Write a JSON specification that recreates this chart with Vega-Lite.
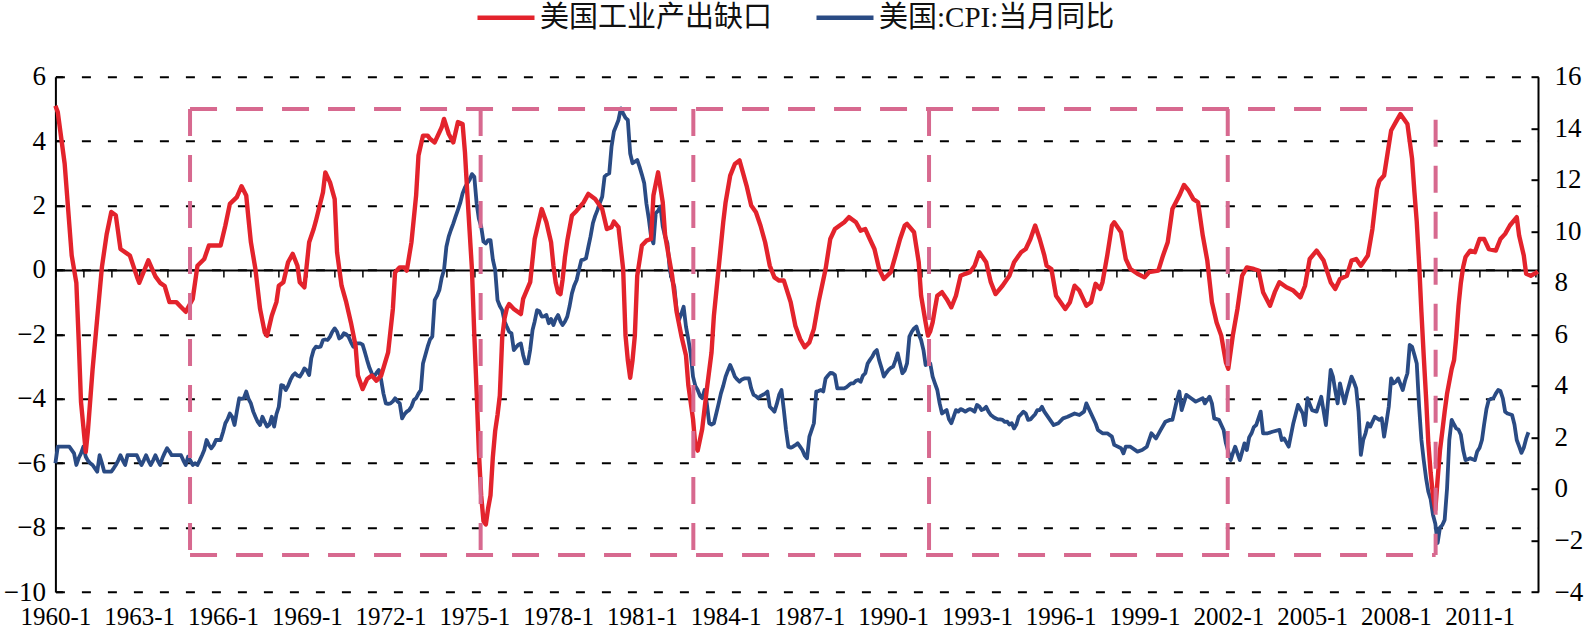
{
"$schema": "https://vega.github.io/schema/vega-lite/v6.json",
"width": 1482.6,
"height": 515.3,
"autosize": {"type": "none"},
"padding": {"left": 55.4, "top": 76.7, "right": 48, "bottom": 43},
"background": "white",
"config": {"view": {"stroke": null}, "font": "Liberation Serif"},
"datasets": {
"gap": [
{"date":"1960-01","value":5.1},{"date":"1960-02","value":4.9},{"date":"1960-05","value":3.3},{"date":"1960-08","value":0.45},{"date":"1960-10","value":-0.4},{"date":"1960-11","value":-2.2},{"date":"1960-12","value":-4.1},{"date":"1961-02","value":-5.65},{"date":"1961-03","value":-5.0},{"date":"1961-05","value":-3.1},{"date":"1961-07","value":-1.5},{"date":"1961-09","value":0.1},{"date":"1961-11","value":1.1},{"date":"1962-01","value":1.8},{"date":"1962-03","value":1.7},{"date":"1962-05","value":0.65},{"date":"1962-08","value":0.5},{"date":"1962-09","value":0.45},{"date":"1962-12","value":-0.2},{"date":"1963-01","value":-0.4},{"date":"1963-05","value":0.3},{"date":"1963-08","value":-0.2},{"date":"1963-10","value":-0.4},{"date":"1963-12","value":-0.5},{"date":"1964-02","value":-1.0},{"date":"1964-05","value":-1.0},{"date":"1964-07","value":-1.15},{"date":"1964-09","value":-1.3},{"date":"1964-12","value":-0.9},{"date":"1965-02","value":0.13},{"date":"1965-05","value":0.34},{"date":"1965-07","value":0.76},{"date":"1965-12","value":0.76},{"date":"1966-02","value":1.38},{"date":"1966-04","value":2.05},{"date":"1966-07","value":2.26},{"date":"1966-09","value":2.6},{"date":"1966-11","value":2.31},{"date":"1966-12","value":1.58},{"date":"1967-01","value":0.86},{"date":"1967-03","value":0.03},{"date":"1967-05","value":-1.21},{"date":"1967-07","value":-1.94},{"date":"1967-08","value":-2.04},{"date":"1967-10","value":-1.42},{"date":"1967-12","value":-1.0},{"date":"1968-01","value":-0.49},{"date":"1968-03","value":-0.38},{"date":"1968-05","value":0.24},{"date":"1968-07","value":0.5},{"date":"1968-09","value":0.13},{"date":"1968-10","value":-0.38},{"date":"1968-12","value":-0.54},{"date":"1969-02","value":0.86},{"date":"1969-04","value":1.27},{"date":"1969-05","value":1.53},{"date":"1969-08","value":2.41},{"date":"1969-09","value":3.03},{"date":"1969-11","value":2.72},{"date":"1970-01","value":2.2},{"date":"1970-02","value":0.55},{"date":"1970-04","value":-0.49},{"date":"1970-06","value":-1.0},{"date":"1970-08","value":-1.63},{"date":"1970-10","value":-2.35},{"date":"1970-11","value":-3.28},{"date":"1971-01","value":-3.7},{"date":"1971-03","value":-3.39},{"date":"1971-05","value":-3.28},{"date":"1971-07","value":-3.44},{"date":"1971-09","value":-3.28},{"date":"1971-12","value":-2.56},{"date":"1972-02","value":-1.21},{"date":"1972-03","value":-0.07},{"date":"1972-05","value":0.08},{"date":"1972-07","value":0.08},{"date":"1972-08","value":-0.02},{"date":"1972-10","value":0.86},{"date":"1972-12","value":2.31},{"date":"1973-01","value":3.55},{"date":"1973-03","value":4.17},{"date":"1973-05","value":4.17},{"date":"1973-06","value":4.07},{"date":"1973-08","value":3.96},{"date":"1973-11","value":4.43},{"date":"1973-12","value":4.69},{"date":"1974-02","value":4.22},{"date":"1974-04","value":3.96},{"date":"1974-06","value":4.59},{"date":"1974-08","value":4.53},{"date":"1974-09","value":3.65},{"date":"1974-10","value":2.4},{"date":"1974-11","value":1.2},{"date":"1974-12","value":0.03},{"date":"1975-01","value":-2.0},{"date":"1975-02","value":-3.8},{"date":"1975-03","value":-5.6},{"date":"1975-04","value":-7.0},{"date":"1975-05","value":-7.8},{"date":"1975-06","value":-7.9},{"date":"1975-07","value":-7.4},{"date":"1975-08","value":-7.0},{"date":"1975-09","value":-5.8},{"date":"1975-10","value":-5.0},{"date":"1975-11","value":-4.5},{"date":"1975-12","value":-3.9},{"date":"1976-01","value":-2.1},{"date":"1976-02","value":-1.5},{"date":"1976-03","value":-1.2},{"date":"1976-04","value":-1.06},{"date":"1976-06","value":-1.21},{"date":"1976-09","value":-1.37},{"date":"1976-10","value":-0.9},{"date":"1977-01","value":-0.38},{"date":"1977-03","value":0.96},{"date":"1977-06","value":1.89},{"date":"1977-08","value":1.48},{"date":"1977-10","value":0.86},{"date":"1977-11","value":0.13},{"date":"1977-12","value":-0.4},{"date":"1978-01","value":-0.7},{"date":"1978-02","value":-0.75},{"date":"1978-03","value":-0.3},{"date":"1978-04","value":0.4},{"date":"1978-05","value":0.9},{"date":"1978-07","value":1.69},{"date":"1978-09","value":1.84},{"date":"1978-12","value":2.1},{"date":"1979-02","value":2.36},{"date":"1979-05","value":2.2},{"date":"1979-08","value":1.89},{"date":"1979-10","value":1.27},{"date":"1979-12","value":1.33},{"date":"1980-01","value":1.5},{"date":"1980-03","value":1.33},{"date":"1980-05","value":0.03},{"date":"1980-06","value":-2.04},{"date":"1980-07","value":-2.8},{"date":"1980-08","value":-3.35},{"date":"1980-09","value":-2.8},{"date":"1980-10","value":-2.04},{"date":"1980-11","value":-0.18},{"date":"1981-01","value":0.76},{"date":"1981-03","value":0.91},{"date":"1981-05","value":0.96},{"date":"1981-06","value":2.31},{"date":"1981-08","value":3.03},{"date":"1981-10","value":2.1},{"date":"1981-11","value":1.07},{"date":"1982-02","value":-0.18},{"date":"1982-04","value":-1.31},{"date":"1982-06","value":-2.04},{"date":"1982-08","value":-2.66},{"date":"1982-09","value":-3.59},{"date":"1982-11","value":-4.63},{"date":"1982-12","value":-5.46},{"date":"1983-01","value":-5.61},{"date":"1983-03","value":-4.94},{"date":"1983-05","value":-3.7},{"date":"1983-07","value":-2.56},{"date":"1983-08","value":-1.42},{"date":"1983-10","value":0.03},{"date":"1983-12","value":1.48},{"date":"1984-01","value":2.1},{"date":"1984-03","value":2.93},{"date":"1984-05","value":3.29},{"date":"1984-07","value":3.4},{"date":"1984-08","value":3.14},{"date":"1984-10","value":2.62},{"date":"1984-12","value":2.0},{"date":"1985-02","value":1.79},{"date":"1985-04","value":1.38},{"date":"1985-06","value":0.86},{"date":"1985-08","value":0.13},{"date":"1985-10","value":-0.23},{"date":"1985-12","value":-0.33},{"date":"1986-02","value":-0.33},{"date":"1986-05","value":-1.0},{"date":"1986-07","value":-1.73},{"date":"1986-09","value":-2.14},{"date":"1986-11","value":-2.4},{"date":"1987-01","value":-2.25},{"date":"1987-03","value":-1.83},{"date":"1987-05","value":-1.0},{"date":"1987-08","value":0.03},{"date":"1987-10","value":0.96},{"date":"1987-12","value":1.27},{"date":"1988-02","value":1.38},{"date":"1988-04","value":1.48},{"date":"1988-06","value":1.64},{"date":"1988-09","value":1.48},{"date":"1988-11","value":1.22},{"date":"1989-01","value":1.27},{"date":"1989-03","value":0.96},{"date":"1989-05","value":0.65},{"date":"1989-07","value":0.03},{"date":"1989-09","value":-0.28},{"date":"1989-12","value":-0.07},{"date":"1990-02","value":0.45},{"date":"1990-04","value":0.96},{"date":"1990-06","value":1.38},{"date":"1990-07","value":1.43},{"date":"1990-10","value":1.17},{"date":"1990-12","value":0.24},{"date":"1991-01","value":-0.8},{"date":"1991-03","value":-1.63},{"date":"1991-04","value":-2.04},{"date":"1991-05","value":-1.9},{"date":"1991-06","value":-1.63},{"date":"1991-07","value":-1.21},{"date":"1991-08","value":-0.8},{"date":"1991-10","value":-0.69},{"date":"1991-12","value":-0.9},{"date":"1992-02","value":-1.16},{"date":"1992-04","value":-0.8},{"date":"1992-06","value":-0.18},{"date":"1992-08","value":-0.12},{"date":"1992-10","value":-0.07},{"date":"1992-12","value":0.13},{"date":"1993-02","value":0.55},{"date":"1993-05","value":0.24},{"date":"1993-07","value":-0.38},{"date":"1993-09","value":-0.75},{"date":"1993-12","value":-0.49},{"date":"1994-03","value":-0.18},{"date":"1994-05","value":0.24},{"date":"1994-08","value":0.55},{"date":"1994-10","value":0.65},{"date":"1994-12","value":0.96},{"date":"1995-02","value":1.38},{"date":"1995-04","value":0.96},{"date":"1995-06","value":0.45},{"date":"1995-07","value":0.13},{"date":"1995-09","value":0.03},{"date":"1995-11","value":-0.8},{"date":"1995-12","value":-0.9},{"date":"1996-03","value":-1.21},{"date":"1996-05","value":-1.0},{"date":"1996-07","value":-0.49},{"date":"1996-09","value":-0.64},{"date":"1996-12","value":-1.11},{"date":"1997-02","value":-1.0},{"date":"1997-04","value":-0.43},{"date":"1997-06","value":-0.59},{"date":"1997-07","value":-0.38},{"date":"1997-09","value":0.45},{"date":"1997-11","value":1.38},{"date":"1997-12","value":1.48},{"date":"1998-03","value":1.17},{"date":"1998-05","value":0.34},{"date":"1998-07","value":0.03},{"date":"1998-10","value":-0.12},{"date":"1999-01","value":-0.23},{"date":"1999-03","value":-0.07},{"date":"1999-07","value":-0.02},{"date":"1999-09","value":0.45},{"date":"1999-11","value":0.86},{"date":"2000-01","value":1.89},{"date":"2000-04","value":2.31},{"date":"2000-06","value":2.64},{"date":"2000-08","value":2.46},{"date":"2000-10","value":2.2},{"date":"2000-12","value":2.1},{"date":"2001-02","value":1.07},{"date":"2001-04","value":0.3},{"date":"2001-06","value":-1.0},{"date":"2001-08","value":-1.63},{"date":"2001-10","value":-2.04},{"date":"2001-12","value":-2.87},{"date":"2002-01","value":-3.07},{"date":"2002-03","value":-2.04},{"date":"2002-05","value":-1.21},{"date":"2002-07","value":-0.18},{"date":"2002-09","value":0.08},{"date":"2002-12","value":0.03},{"date":"2003-02","value":-0.02},{"date":"2003-04","value":-0.69},{"date":"2003-07","value":-1.11},{"date":"2003-09","value":-0.69},{"date":"2003-11","value":-0.38},{"date":"2004-02","value":-0.54},{"date":"2004-05","value":-0.64},{"date":"2004-08","value":-0.85},{"date":"2004-10","value":-0.49},{"date":"2004-12","value":0.34},{"date":"2005-03","value":0.6},{"date":"2005-06","value":0.29},{"date":"2005-09","value":-0.38},{"date":"2005-11","value":-0.59},{"date":"2006-01","value":-0.28},{"date":"2006-04","value":-0.18},{"date":"2006-06","value":0.29},{"date":"2006-08","value":0.34},{"date":"2006-10","value":0.13},{"date":"2007-01","value":0.45},{"date":"2007-03","value":1.27},{"date":"2007-05","value":2.52},{"date":"2007-06","value":2.77},{"date":"2007-08","value":2.93},{"date":"2007-10","value":3.86},{"date":"2007-11","value":4.33},{"date":"2008-01","value":4.59},{"date":"2008-03","value":4.84},{"date":"2008-06","value":4.53},{"date":"2008-08","value":3.45},{"date":"2008-09","value":2.41},{"date":"2008-10","value":1.5},{"date":"2008-11","value":0.2},{"date":"2008-12","value":-1.3},{"date":"2009-01","value":-2.7},{"date":"2009-02","value":-4.0},{"date":"2009-03","value":-5.35},{"date":"2009-04","value":-6.3},{"date":"2009-05","value":-7.0},{"date":"2009-06","value":-7.45},{"date":"2009-07","value":-6.5},{"date":"2009-08","value":-5.6},{"date":"2009-09","value":-5.0},{"date":"2009-10","value":-4.4},{"date":"2009-11","value":-3.85},{"date":"2010-01","value":-3.07},{"date":"2010-02","value":-2.8},{"date":"2010-03","value":-2.1},{"date":"2010-04","value":-1.1},{"date":"2010-05","value":-0.4},{"date":"2010-06","value":0.1},{"date":"2010-07","value":0.4},{"date":"2010-09","value":0.6},{"date":"2010-11","value":0.55},{"date":"2011-01","value":0.96},{"date":"2011-03","value":0.96},{"date":"2011-05","value":0.65},{"date":"2011-08","value":0.6},{"date":"2011-10","value":0.96},{"date":"2011-12","value":1.12},{"date":"2012-02","value":1.38},{"date":"2012-05","value":1.64},{"date":"2012-06","value":1.07},{"date":"2012-08","value":0.45},{"date":"2012-09","value":-0.12},{"date":"2012-11","value":-0.18},{"date":"2013-01","value":-0.1},{"date":"2013-02","value":-0.05}
],
"cpi": [
{"date":"1960-01","value":1.0},{"date":"1960-02","value":1.64},{"date":"1960-04","value":1.64},{"date":"1960-07","value":1.64},{"date":"1960-09","value":1.38},{"date":"1960-10","value":0.93},{"date":"1960-11","value":1.2},{"date":"1960-12","value":1.38},{"date":"1961-01","value":1.64},{"date":"1961-02","value":1.25},{"date":"1961-03","value":1.1},{"date":"1961-04","value":1.0},{"date":"1961-05","value":0.93},{"date":"1961-06","value":0.8},{"date":"1961-07","value":0.67},{"date":"1961-08","value":1.31},{"date":"1961-09","value":1.0},{"date":"1961-10","value":0.67},{"date":"1961-11","value":0.67},{"date":"1961-12","value":0.67},{"date":"1962-01","value":0.67},{"date":"1962-02","value":0.8},{"date":"1962-03","value":0.93},{"date":"1962-04","value":1.1},{"date":"1962-05","value":1.31},{"date":"1962-06","value":1.1},{"date":"1962-07","value":0.93},{"date":"1962-08","value":1.31},{"date":"1962-09","value":1.31},{"date":"1962-10","value":1.31},{"date":"1962-11","value":1.31},{"date":"1962-12","value":1.31},{"date":"1963-01","value":1.1},{"date":"1963-02","value":0.93},{"date":"1963-03","value":1.1},{"date":"1963-04","value":1.31},{"date":"1963-05","value":1.1},{"date":"1963-06","value":0.93},{"date":"1963-07","value":1.1},{"date":"1963-08","value":1.31},{"date":"1963-09","value":1.1},{"date":"1963-10","value":0.93},{"date":"1963-11","value":1.2},{"date":"1963-12","value":1.4},{"date":"1964-01","value":1.58},{"date":"1964-02","value":1.45},{"date":"1964-03","value":1.31},{"date":"1964-04","value":1.31},{"date":"1964-05","value":1.31},{"date":"1964-06","value":1.31},{"date":"1964-07","value":1.31},{"date":"1964-08","value":1.1},{"date":"1964-09","value":0.93},{"date":"1964-10","value":1.25},{"date":"1964-11","value":1.1},{"date":"1964-12","value":0.93},{"date":"1965-01","value":1.0},{"date":"1965-02","value":0.93},{"date":"1965-03","value":1.1},{"date":"1965-04","value":1.3},{"date":"1965-05","value":1.51},{"date":"1965-06","value":1.9},{"date":"1965-07","value":1.7},{"date":"1965-08","value":1.58},{"date":"1965-09","value":1.7},{"date":"1965-10","value":1.9},{"date":"1965-11","value":1.9},{"date":"1965-12","value":1.9},{"date":"1966-01","value":2.2},{"date":"1966-02","value":2.55},{"date":"1966-03","value":2.7},{"date":"1966-04","value":2.93},{"date":"1966-05","value":2.8},{"date":"1966-06","value":2.48},{"date":"1966-07","value":3.0},{"date":"1966-08","value":3.52},{"date":"1966-09","value":3.5},{"date":"1966-10","value":3.52},{"date":"1966-11","value":3.78},{"date":"1966-12","value":3.5},{"date":"1967-01","value":3.32},{"date":"1967-02","value":3.0},{"date":"1967-03","value":2.8},{"date":"1967-04","value":2.6},{"date":"1967-05","value":2.48},{"date":"1967-06","value":2.8},{"date":"1967-07","value":2.6},{"date":"1967-08","value":2.42},{"date":"1967-09","value":2.5},{"date":"1967-10","value":2.8},{"date":"1967-11","value":2.42},{"date":"1967-12","value":2.9},{"date":"1968-01","value":3.19},{"date":"1968-02","value":4.03},{"date":"1968-03","value":4.0},{"date":"1968-04","value":3.84},{"date":"1968-05","value":4.0},{"date":"1968-06","value":4.23},{"date":"1968-07","value":4.4},{"date":"1968-08","value":4.49},{"date":"1968-09","value":4.4},{"date":"1968-10","value":4.36},{"date":"1968-11","value":4.5},{"date":"1968-12","value":4.68},{"date":"1969-01","value":4.6},{"date":"1969-02","value":4.42},{"date":"1969-03","value":5.07},{"date":"1969-04","value":5.4},{"date":"1969-05","value":5.52},{"date":"1969-06","value":5.5},{"date":"1969-07","value":5.52},{"date":"1969-08","value":5.78},{"date":"1969-09","value":5.8},{"date":"1969-10","value":5.78},{"date":"1969-11","value":5.91},{"date":"1969-12","value":6.1},{"date":"1970-01","value":6.23},{"date":"1970-02","value":6.1},{"date":"1970-03","value":5.84},{"date":"1970-04","value":5.9},{"date":"1970-05","value":6.04},{"date":"1970-06","value":6.0},{"date":"1970-07","value":5.91},{"date":"1970-08","value":5.7},{"date":"1970-09","value":5.52},{"date":"1970-10","value":5.65},{"date":"1970-11","value":5.65},{"date":"1970-12","value":5.65},{"date":"1971-01","value":5.6},{"date":"1971-02","value":5.3},{"date":"1971-03","value":5.0},{"date":"1971-04","value":4.7},{"date":"1971-05","value":4.49},{"date":"1971-06","value":4.36},{"date":"1971-07","value":4.5},{"date":"1971-08","value":4.62},{"date":"1971-09","value":4.23},{"date":"1971-10","value":3.7},{"date":"1971-11","value":3.32},{"date":"1971-12","value":3.3},{"date":"1972-01","value":3.32},{"date":"1972-02","value":3.4},{"date":"1972-03","value":3.52},{"date":"1972-04","value":3.4},{"date":"1972-05","value":3.32},{"date":"1972-06","value":2.74},{"date":"1972-07","value":2.9},{"date":"1972-08","value":3.0},{"date":"1972-09","value":3.06},{"date":"1972-10","value":3.2},{"date":"1972-11","value":3.45},{"date":"1972-12","value":3.52},{"date":"1973-01","value":3.7},{"date":"1973-02","value":3.84},{"date":"1973-03","value":4.87},{"date":"1973-04","value":5.2},{"date":"1973-05","value":5.52},{"date":"1973-06","value":5.8},{"date":"1973-07","value":5.91},{"date":"1973-08","value":7.33},{"date":"1973-09","value":7.5},{"date":"1973-10","value":7.72},{"date":"1973-11","value":8.2},{"date":"1973-12","value":8.5},{"date":"1974-01","value":9.4},{"date":"1974-02","value":9.8},{"date":"1974-03","value":10.05},{"date":"1974-04","value":10.3},{"date":"1974-05","value":10.57},{"date":"1974-06","value":10.83},{"date":"1974-07","value":11.1},{"date":"1974-08","value":11.47},{"date":"1974-09","value":11.7},{"date":"1974-10","value":11.86},{"date":"1974-11","value":12.0},{"date":"1974-12","value":12.22},{"date":"1975-01","value":12.12},{"date":"1975-02","value":11.08},{"date":"1975-03","value":10.5},{"date":"1975-04","value":10.18},{"date":"1975-05","value":9.6},{"date":"1975-06","value":9.53},{"date":"1975-07","value":9.66},{"date":"1975-08","value":9.66},{"date":"1975-09","value":8.9},{"date":"1975-10","value":8.5},{"date":"1975-11","value":7.33},{"date":"1975-12","value":7.1},{"date":"1976-01","value":6.94},{"date":"1976-02","value":6.5},{"date":"1976-03","value":6.3},{"date":"1976-04","value":6.1},{"date":"1976-05","value":6.04},{"date":"1976-06","value":5.39},{"date":"1976-07","value":5.5},{"date":"1976-08","value":5.6},{"date":"1976-09","value":5.65},{"date":"1976-10","value":5.2},{"date":"1976-11","value":4.87},{"date":"1976-12","value":4.87},{"date":"1977-01","value":5.4},{"date":"1977-02","value":6.17},{"date":"1977-03","value":6.5},{"date":"1977-04","value":6.94},{"date":"1977-05","value":6.9},{"date":"1977-06","value":6.69},{"date":"1977-07","value":6.7},{"date":"1977-08","value":6.75},{"date":"1977-09","value":6.43},{"date":"1977-10","value":6.6},{"date":"1977-11","value":6.36},{"date":"1977-12","value":6.6},{"date":"1978-01","value":6.75},{"date":"1978-02","value":6.5},{"date":"1978-03","value":6.36},{"date":"1978-04","value":6.5},{"date":"1978-05","value":6.69},{"date":"1978-06","value":7.1},{"date":"1978-07","value":7.59},{"date":"1978-08","value":7.9},{"date":"1978-09","value":8.11},{"date":"1978-10","value":8.5},{"date":"1978-11","value":8.88},{"date":"1978-12","value":8.9},{"date":"1979-01","value":8.95},{"date":"1979-02","value":9.4},{"date":"1979-03","value":9.79},{"date":"1979-04","value":10.31},{"date":"1979-05","value":10.6},{"date":"1979-06","value":10.83},{"date":"1979-07","value":11.1},{"date":"1979-08","value":11.34},{"date":"1979-09","value":12.12},{"date":"1979-10","value":12.2},{"date":"1979-11","value":12.25},{"date":"1979-12","value":13.28},{"date":"1980-01","value":13.87},{"date":"1980-02","value":14.1},{"date":"1980-03","value":14.32},{"date":"1980-04","value":14.77},{"date":"1980-05","value":14.58},{"date":"1980-06","value":14.4},{"date":"1980-07","value":14.32},{"date":"1980-08","value":13.02},{"date":"1980-09","value":12.64},{"date":"1980-10","value":12.7},{"date":"1980-11","value":12.77},{"date":"1980-12","value":12.51},{"date":"1981-01","value":12.2},{"date":"1981-02","value":11.86},{"date":"1981-03","value":11.08},{"date":"1981-04","value":10.5},{"date":"1981-05","value":9.8},{"date":"1981-06","value":9.53},{"date":"1981-07","value":10.7},{"date":"1981-08","value":10.8},{"date":"1981-09","value":10.96},{"date":"1981-10","value":10.18},{"date":"1981-11","value":9.8},{"date":"1981-12","value":9.53},{"date":"1982-01","value":8.5},{"date":"1982-02","value":8.1},{"date":"1982-03","value":7.85},{"date":"1982-04","value":6.94},{"date":"1982-05","value":6.56},{"date":"1982-06","value":6.8},{"date":"1982-07","value":7.07},{"date":"1982-08","value":6.3},{"date":"1982-09","value":5.8},{"date":"1982-10","value":5.26},{"date":"1982-11","value":4.36},{"date":"1982-12","value":4.0},{"date":"1983-01","value":3.84},{"date":"1983-02","value":3.6},{"date":"1983-03","value":3.52},{"date":"1983-04","value":3.84},{"date":"1983-05","value":3.3},{"date":"1983-06","value":2.55},{"date":"1983-07","value":2.5},{"date":"1983-08","value":2.55},{"date":"1983-09","value":2.93},{"date":"1983-10","value":3.3},{"date":"1983-11","value":3.71},{"date":"1983-12","value":4.0},{"date":"1984-01","value":4.36},{"date":"1984-02","value":4.6},{"date":"1984-03","value":4.81},{"date":"1984-04","value":4.6},{"date":"1984-05","value":4.36},{"date":"1984-06","value":4.25},{"date":"1984-07","value":4.16},{"date":"1984-08","value":4.25},{"date":"1984-09","value":4.29},{"date":"1984-10","value":4.29},{"date":"1984-11","value":4.29},{"date":"1984-12","value":3.9},{"date":"1985-01","value":3.65},{"date":"1985-02","value":3.6},{"date":"1985-03","value":3.52},{"date":"1985-04","value":3.6},{"date":"1985-05","value":3.65},{"date":"1985-06","value":3.7},{"date":"1985-07","value":3.78},{"date":"1985-08","value":3.19},{"date":"1985-09","value":3.1},{"date":"1985-10","value":3.0},{"date":"1985-11","value":3.3},{"date":"1985-12","value":3.65},{"date":"1986-01","value":3.84},{"date":"1986-02","value":3.06},{"date":"1986-03","value":2.3},{"date":"1986-04","value":1.64},{"date":"1986-05","value":1.6},{"date":"1986-06","value":1.64},{"date":"1986-07","value":1.7},{"date":"1986-08","value":1.77},{"date":"1986-09","value":1.64},{"date":"1986-10","value":1.51},{"date":"1986-11","value":1.3},{"date":"1986-12","value":1.19},{"date":"1987-01","value":2.03},{"date":"1987-02","value":2.3},{"date":"1987-03","value":2.55},{"date":"1987-04","value":3.78},{"date":"1987-05","value":3.8},{"date":"1987-06","value":3.84},{"date":"1987-07","value":3.78},{"date":"1987-08","value":4.29},{"date":"1987-09","value":4.4},{"date":"1987-10","value":4.5},{"date":"1987-11","value":4.49},{"date":"1987-12","value":4.42},{"date":"1988-01","value":3.9},{"date":"1988-02","value":3.9},{"date":"1988-03","value":3.9},{"date":"1988-04","value":3.9},{"date":"1988-05","value":3.95},{"date":"1988-06","value":4.03},{"date":"1988-07","value":4.1},{"date":"1988-08","value":4.1},{"date":"1988-09","value":4.2},{"date":"1988-10","value":4.23},{"date":"1988-11","value":4.16},{"date":"1988-12","value":4.4},{"date":"1989-01","value":4.49},{"date":"1989-02","value":4.87},{"date":"1989-03","value":5.0},{"date":"1989-04","value":5.13},{"date":"1989-05","value":5.3},{"date":"1989-06","value":5.39},{"date":"1989-07","value":5.0},{"date":"1989-08","value":4.7},{"date":"1989-09","value":4.36},{"date":"1989-10","value":4.5},{"date":"1989-11","value":4.62},{"date":"1989-12","value":4.7},{"date":"1990-01","value":4.75},{"date":"1990-02","value":5.0},{"date":"1990-03","value":5.26},{"date":"1990-04","value":4.87},{"date":"1990-05","value":4.49},{"date":"1990-06","value":4.6},{"date":"1990-07","value":4.87},{"date":"1990-08","value":5.91},{"date":"1990-09","value":6.1},{"date":"1990-10","value":6.23},{"date":"1990-11","value":6.3},{"date":"1990-12","value":6.0},{"date":"1991-01","value":5.78},{"date":"1991-02","value":5.39},{"date":"1991-03","value":4.81},{"date":"1991-04","value":4.85},{"date":"1991-05","value":4.87},{"date":"1991-06","value":4.36},{"date":"1991-07","value":4.1},{"date":"1991-08","value":3.84},{"date":"1991-09","value":3.32},{"date":"1991-10","value":2.93},{"date":"1991-11","value":3.0},{"date":"1991-12","value":3.06},{"date":"1992-01","value":2.7},{"date":"1992-02","value":2.55},{"date":"1992-03","value":2.8},{"date":"1992-04","value":3.06},{"date":"1992-05","value":3.0},{"date":"1992-06","value":3.1},{"date":"1992-07","value":3.06},{"date":"1992-08","value":3.0},{"date":"1992-09","value":3.06},{"date":"1992-10","value":3.1},{"date":"1992-11","value":3.06},{"date":"1992-12","value":3.0},{"date":"1993-01","value":3.26},{"date":"1993-02","value":3.2},{"date":"1993-03","value":3.06},{"date":"1993-04","value":3.1},{"date":"1993-05","value":3.19},{"date":"1993-06","value":3.0},{"date":"1993-07","value":2.87},{"date":"1993-08","value":2.8},{"date":"1993-09","value":2.74},{"date":"1993-10","value":2.7},{"date":"1993-11","value":2.7},{"date":"1993-12","value":2.68},{"date":"1994-01","value":2.6},{"date":"1994-02","value":2.61},{"date":"1994-03","value":2.5},{"date":"1994-04","value":2.55},{"date":"1994-05","value":2.35},{"date":"1994-06","value":2.5},{"date":"1994-07","value":2.8},{"date":"1994-08","value":2.9},{"date":"1994-09","value":3.0},{"date":"1994-10","value":2.93},{"date":"1994-11","value":2.68},{"date":"1994-12","value":2.7},{"date":"1995-01","value":2.8},{"date":"1995-02","value":2.9},{"date":"1995-03","value":3.06},{"date":"1995-04","value":3.06},{"date":"1995-05","value":3.19},{"date":"1995-06","value":3.0},{"date":"1995-08","value":2.74},{"date":"1995-10","value":2.48},{"date":"1995-12","value":2.55},{"date":"1996-02","value":2.74},{"date":"1996-04","value":2.8},{"date":"1996-07","value":2.93},{"date":"1996-09","value":2.87},{"date":"1996-11","value":3.0},{"date":"1996-12","value":3.32},{"date":"1997-02","value":2.93},{"date":"1997-04","value":2.55},{"date":"1997-05","value":2.29},{"date":"1997-07","value":2.16},{"date":"1997-09","value":2.16},{"date":"1997-11","value":2.03},{"date":"1997-12","value":1.71},{"date":"1998-03","value":1.58},{"date":"1998-04","value":1.38},{"date":"1998-05","value":1.64},{"date":"1998-07","value":1.64},{"date":"1998-10","value":1.45},{"date":"1998-12","value":1.51},{"date":"1999-02","value":1.64},{"date":"1999-04","value":2.16},{"date":"1999-06","value":1.96},{"date":"1999-08","value":2.29},{"date":"1999-10","value":2.61},{"date":"1999-12","value":2.68},{"date":"2000-01","value":2.68},{"date":"2000-03","value":3.45},{"date":"2000-04","value":3.78},{"date":"2000-05","value":3.06},{"date":"2000-07","value":3.65},{"date":"2000-09","value":3.52},{"date":"2000-11","value":3.39},{"date":"2001-02","value":3.52},{"date":"2001-03","value":3.32},{"date":"2001-05","value":3.58},{"date":"2001-06","value":3.32},{"date":"2001-07","value":2.74},{"date":"2001-09","value":2.68},{"date":"2001-11","value":2.29},{"date":"2001-12","value":1.77},{"date":"2002-02","value":1.12},{"date":"2002-03","value":1.38},{"date":"2002-04","value":1.64},{"date":"2002-06","value":1.12},{"date":"2002-08","value":1.77},{"date":"2002-09","value":1.51},{"date":"2002-10","value":2.0},{"date":"2002-11","value":2.16},{"date":"2002-12","value":2.4},{"date":"2003-01","value":2.48},{"date":"2003-03","value":3.0},{"date":"2003-04","value":2.16},{"date":"2003-06","value":2.16},{"date":"2003-08","value":2.22},{"date":"2003-11","value":2.29},{"date":"2003-12","value":1.9},{"date":"2004-01","value":1.96},{"date":"2004-03","value":1.64},{"date":"2004-05","value":2.55},{"date":"2004-07","value":3.26},{"date":"2004-09","value":2.93},{"date":"2004-10","value":2.48},{"date":"2004-11","value":3.52},{"date":"2005-01","value":3.06},{"date":"2005-03","value":3.0},{"date":"2005-05","value":3.58},{"date":"2005-07","value":2.48},{"date":"2005-08","value":3.52},{"date":"2005-09","value":4.62},{"date":"2005-10","value":4.36},{"date":"2005-11","value":3.8},{"date":"2005-12","value":3.32},{"date":"2006-01","value":4.1},{"date":"2006-03","value":3.32},{"date":"2006-04","value":3.71},{"date":"2006-06","value":4.36},{"date":"2006-07","value":4.16},{"date":"2006-08","value":3.9},{"date":"2006-09","value":3.0},{"date":"2006-10","value":1.32},{"date":"2006-11","value":1.9},{"date":"2006-12","value":2.16},{"date":"2007-01","value":2.55},{"date":"2007-02","value":2.42},{"date":"2007-04","value":2.8},{"date":"2007-06","value":2.68},{"date":"2007-07","value":2.74},{"date":"2007-08","value":2.03},{"date":"2007-09","value":2.6},{"date":"2007-10","value":3.19},{"date":"2007-11","value":4.29},{"date":"2007-12","value":4.1},{"date":"2008-01","value":4.16},{"date":"2008-02","value":4.29},{"date":"2008-04","value":3.84},{"date":"2008-05","value":4.2},{"date":"2008-06","value":4.49},{"date":"2008-07","value":5.59},{"date":"2008-08","value":5.52},{"date":"2008-09","value":5.2},{"date":"2008-10","value":4.87},{"date":"2008-11","value":3.2},{"date":"2008-12","value":1.9},{"date":"2009-01","value":1.1},{"date":"2009-02","value":0.4},{"date":"2009-03","value":-0.1},{"date":"2009-04","value":-0.4},{"date":"2009-05","value":-1.0},{"date":"2009-06","value":-1.35},{"date":"2009-07","value":-2.1},{"date":"2009-08","value":-1.5},{"date":"2009-09","value":-1.4},{"date":"2009-10","value":-1.2},{"date":"2009-11","value":0.0},{"date":"2009-12","value":1.9},{"date":"2010-01","value":2.68},{"date":"2010-02","value":2.5},{"date":"2010-03","value":2.35},{"date":"2010-04","value":2.3},{"date":"2010-05","value":2.1},{"date":"2010-06","value":1.5},{"date":"2010-07","value":1.12},{"date":"2010-08","value":1.15},{"date":"2010-09","value":1.19},{"date":"2010-10","value":1.15},{"date":"2010-11","value":1.12},{"date":"2010-12","value":1.45},{"date":"2011-01","value":1.6},{"date":"2011-02","value":1.9},{"date":"2011-03","value":2.5},{"date":"2011-04","value":3.1},{"date":"2011-05","value":3.45},{"date":"2011-06","value":3.5},{"date":"2011-07","value":3.52},{"date":"2011-08","value":3.7},{"date":"2011-09","value":3.84},{"date":"2011-10","value":3.8},{"date":"2011-11","value":3.52},{"date":"2011-12","value":3.0},{"date":"2012-01","value":2.93},{"date":"2012-02","value":2.9},{"date":"2012-03","value":2.87},{"date":"2012-04","value":2.5},{"date":"2012-05","value":1.9},{"date":"2012-06","value":1.65},{"date":"2012-07","value":1.4},{"date":"2012-08","value":1.6},{"date":"2012-09","value":1.95},{"date":"2012-10","value":2.2}
],
"boxes": [
{"from_date":"1964-10-27","to_date":"2008-09-10","from_value":5.0,"to_value":5.0},
{"from_date":"1964-10-27","to_date":"2009-06-05","from_value":-8.85,"to_value":-8.85},
{"from_date":"1964-10-27","to_date":"1964-10-27","from_value":5.0,"to_value":-8.85},
{"from_date":"1975-03-25","to_date":"1975-03-25","from_value":5.0,"to_value":-8.85},
{"from_date":"1982-11-05","to_date":"1982-11-05","from_value":5.0,"to_value":-8.85},
{"from_date":"1991-04-15","to_date":"1991-04-15","from_value":5.0,"to_value":-8.85},
{"from_date":"2001-12-25","to_date":"2001-12-25","from_value":5.0,"to_value":-8.85},
{"from_date":"2009-06-05","to_date":"2009-06-05","from_value":4.66,"to_value":-8.85}
]
},
"layer": [
{
"data": {"name": "cpi"},
"mark": {"type": "line", "strokeWidth": 3.8, "strokeJoin": "round"},
"encoding": {
"x": {"field": "date", "type": "temporal",
"scale": {"type": "utc", "domain": [{"year":1960,"month":1,"date":1,"utc":true},{"year":2013,"month":2,"date":3,"utc":true}]},
"axis": {"orient": "bottom", "domain": false, "ticks": false, "grid": false, "title": null,
"values": [{"year":1960,"month":1,"date":1,"utc":true},{"year":1963,"month":1,"date":1,"utc":true},{"year":1966,"month":1,"date":1,"utc":true},{"year":1969,"month":1,"date":1,"utc":true},{"year":1972,"month":1,"date":1,"utc":true},{"year":1975,"month":1,"date":1,"utc":true},{"year":1978,"month":1,"date":1,"utc":true},{"year":1981,"month":1,"date":1,"utc":true},{"year":1984,"month":1,"date":1,"utc":true},{"year":1987,"month":1,"date":1,"utc":true},{"year":1990,"month":1,"date":1,"utc":true},{"year":1993,"month":1,"date":1,"utc":true},{"year":1996,"month":1,"date":1,"utc":true},{"year":1999,"month":1,"date":1,"utc":true},{"year":2002,"month":1,"date":1,"utc":true},{"year":2005,"month":1,"date":1,"utc":true},{"year":2008,"month":1,"date":1,"utc":true},{"year":2011,"month":1,"date":1,"utc":true}],
"format": "%Y-%-m", "labelFont": "Liberation Serif", "labelFontSize": 25, "labelColor": "#000000", "labelPadding": 12, "labelFlush": false, "labelOverlap": false}},
"y": {"field": "value", "type": "quantitative",
"scale": {"domain": [-4, 16], "nice": false, "zero": false},
"axis": {"orient": "right", "title": null, "values": [-4,-2,0,2,4,6,8,10,12,14,16], "grid": false,
"domain": true, "domainColor": "#000000", "domainWidth": 2, "ticks": true, "tickSize": -7, "tickColor": "#000000", "tickWidth": 2,
"labelFont": "Liberation Serif", "labelFontSize": 27, "labelColor": "#000000", "labelPadding": 23}},
"color": {"datum": "美国:CPI:当月同比", "type": "nominal",
"scale": {"domain": ["美国工业产出缺口", "美国:CPI:当月同比"], "range": ["#E3232C", "#2A4B84"]},
"legend": {"title": null, "orient": "none", "legendX": 419.6, "legendY": -90, "direction": "horizontal",
"symbolType": "stroke", "symbolSize": 3249, "symbolStrokeWidth": 4.5,
"labelFont": "Liberation Serif, Noto Sans CJK SC", "labelFontSize": 29, "labelColor": "#111111", "labelLimit": 500, "labelOffset": 3, "columnPadding": 34}}
}
},
{
"data": {"name": "gap"},
"mark": {"type": "line", "strokeWidth": 4.4, "strokeJoin": "round"},
"encoding": {
"x": {"field": "date", "type": "temporal",
"scale": {"type": "utc", "domain": [{"year":1960,"month":1,"date":1,"utc":true},{"year":2013,"month":2,"date":3,"utc":true}]},
"axis": {"orient": "bottom", "offset": -322.06, "title": null, "labels": false, "grid": false,
"domain": true, "domainColor": "#000000", "domainWidth": 2,
"ticks": true, "tickCount": {"interval": "year", "step": 1}, "tickSize": 7, "tickColor": "#000000", "tickWidth": 1.5}},
"y": {"field": "value", "type": "quantitative",
"scale": {"domain": [-10, 6], "nice": false, "zero": false},
"axis": {"orient": "left", "title": null, "values": [-10,-8,-6,-4,-2,0,2,4,6],
"grid": true, "gridColor": "#000000", "gridWidth": 2, "gridDash": [9, 17], "gridOpacity": 1,
"domain": true, "domainColor": "#000000", "domainWidth": 2, "ticks": true, "tickSize": -7, "tickColor": "#000000", "tickWidth": 2,
"labelFont": "Liberation Serif", "labelFontSize": 27, "labelColor": "#000000", "labelPadding": 17}},
"color": {"datum": "美国工业产出缺口", "type": "nominal",
"scale": {"domain": ["美国工业产出缺口", "美国:CPI:当月同比"], "range": ["#E3232C", "#2A4B84"]},
"legend": {"title": null, "orient": "none", "legendX": 419.6, "legendY": -90, "direction": "horizontal",
"symbolType": "stroke", "symbolSize": 3249, "symbolStrokeWidth": 4.5,
"labelFont": "Liberation Serif, Noto Sans CJK SC", "labelFontSize": 29, "labelColor": "#111111", "labelLimit": 500, "labelOffset": 3, "columnPadding": 34}}
}
},
{
"data": {"name": "boxes"},
"mark": {"type": "rule", "color": "#D7698F", "strokeWidth": 4, "strokeDash": [27, 19]},
"encoding": {
"x": {"field": "from_date", "type": "temporal", "scale": {"type": "utc", "domain": [{"year":1960,"month":1,"date":1,"utc":true},{"year":2013,"month":2,"date":3,"utc":true}]}, "axis": null},
"x2": {"field": "to_date"},
"y": {"field": "from_value", "type": "quantitative", "scale": {"domain": [-10, 6], "nice": false, "zero": false}, "axis": null},
"y2": {"field": "to_value"}
}
}
],
"resolve": {"scale": {"y": "independent"}, "axis": {"x": "independent", "y": "independent"}}
}
